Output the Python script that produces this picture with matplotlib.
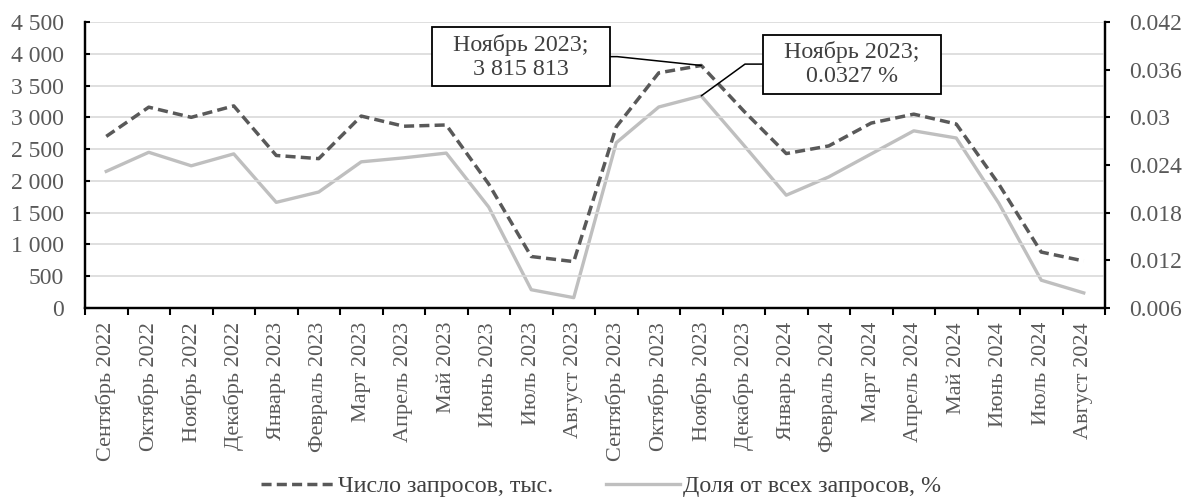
import matplotlib
matplotlib.use("Agg")
import matplotlib.pyplot as plt
from matplotlib.path import Path
from matplotlib.ticker import FuncFormatter, FixedLocator

plt.rcParams['font.family'] = ['Liberation Serif', 'DejaVu Serif']

# data
months = ["Сентябрь 2022", "Октябрь 2022", "Ноябрь 2022", "Декабрь 2022",
          "Январь 2023", "Февраль 2023", "Март 2023", "Апрель 2023", "Май 2023",
          "Июнь 2023", "Июль 2023", "Август 2023", "Сентябрь 2023", "Октябрь 2023",
          "Ноябрь 2023", "Декабрь 2023", "Январь 2024", "Февраль 2024", "Март 2024",
          "Апрель 2024", "Май 2024", "Июнь 2024", "Июль 2024", "Август 2024"]
requests = [2700, 3160, 3000, 3180, 2400, 2350, 3020, 2860, 2880,
            1950, 810, 730, 2850, 3700, 3816, 3100, 2430, 2550, 2910,
            3050, 2895, 1950, 880, 740]
share = [0.0232, 0.0256, 0.0239, 0.0254, 0.0193, 0.0206, 0.0244, 0.0249, 0.0255,
         0.0187, 0.0083, 0.0073, 0.0268, 0.0313, 0.0327, 0.0265, 0.0202, 0.0225,
         0.0254, 0.0283, 0.0274, 0.0192, 0.0095, 0.0079]
left_ticks = [0, 500, 1000, 1500, 2000, 2500, 3000, 3500, 4000, 4500]
right_ticks = [0.006, 0.012, 0.018, 0.024, 0.03, 0.036, 0.042]

label_col = "#595959"
text_col = "#404040"
W, H = 1189, 498
fig = plt.figure(figsize=(W / 100, H / 100), dpi=100)
ax = fig.add_axes([85 / W, 1 - 308 / H, (1105 - 85) / W, (308 - 22) / H])
ax2 = ax.twinx()

x = list(range(len(months)))
l1, = ax.plot(x, requests, color="#595959", lw=2.5, ls=(0, (2.9, 1.5)),
              label="Число запросов, тыс.")
l2, = ax2.plot(x, share, color="#bfbfbf", lw=2.4, label="Доля от всех запросов, %")
ax.set_zorder(ax2.get_zorder() + 1)
ax.patch.set_visible(False)

ax.set_xlim(-0.5, len(months) - 0.5)
ax.set_ylim(0, 4500)
ax2.set_ylim(0.006, 0.042)

ax.set_yticks(left_ticks)
ax.yaxis.set_major_formatter(FuncFormatter(lambda v, p: f"{int(v):,}".replace(",", " ")))
ax2.set_yticks(right_ticks)
ax2.yaxis.set_major_formatter(FuncFormatter(lambda v, p: f"{v:g}"))

ax.set_xticks(x)
ax.set_xticklabels(months, rotation=90)
ax.xaxis.set_minor_locator(FixedLocator([i - 0.5 for i in range(len(months) + 1)]))
ax.tick_params(axis="x", which="major", length=0, pad=10, labelsize=16)
ax.tick_params(axis="x", which="minor", length=5, width=1.5, direction="out")
ax.tick_params(axis="y", length=3.6, width=1.5, direction="in", pad=15, labelsize=17)
ax2.tick_params(axis="y", length=3.6, width=1.5, direction="out", pad=13.7, labelsize=17)
for a in (ax, ax2):
    a.tick_params(labelcolor=label_col)

ax.grid(axis="y", color="#d9d9d9", lw=1.2)
ax.set_axisbelow(True)
ax.spines["top"].set_visible(False)
ax2.spines["top"].set_visible(False)
for a in (ax, ax2):
    for s in ("left", "right", "bottom"):
        a.spines[s].set_linewidth(1.6)
        a.spines[s].set_color("black")


# box with wider horizontal padding, like the Excel data callouts
def wide_box(x0, y0, width, height, mutation_size):
    px, py = 0.88 * mutation_size, 0.27 * mutation_size
    x0, y0 = x0 - px, y0 - py
    x1, y1 = x0 + width + 2 * px, y0 + height + 2 * py
    return Path([(x0, y0), (x1, y0), (x1, y1), (x0, y1), (x0, y0)], closed=True)


box = dict(boxstyle=wide_box, fc="white", ec="black", lw=1.3)
i = months.index("Ноябрь 2023")
ax.annotate("Ноябрь 2023;\n3 815 813", xy=(i, requests[i]), xytext=(9.76, 3955),
            ha="center", va="center", fontsize=17.3, color=text_col, bbox=box,
            arrowprops=dict(arrowstyle="-", color="black", lw=1.1,
                            connectionstyle="angle,angleA=0,angleB=174,rad=0",
                            shrinkA=0, shrinkB=0))
ax.annotate("Ноябрь 2023;\n0.0327 %", xy=(i, share[i]), xytext=(17.54, 0.0367),
            xycoords=ax2.transData, textcoords=ax2.transData,
            ha="center", va="center", fontsize=17.3, color=text_col, bbox=box,
            arrowprops=dict(arrowstyle="-", color="black", lw=1.1,
                            connectionstyle="angle,angleA=180,angleB=36,rad=0",
                            shrinkA=0, shrinkB=0))

fig.legend(handles=[l1, l2], loc="center", bbox_to_anchor=(601 / W, 1 - 486 / H),
           ncol=2, frameon=False, fontsize=17.3, handlelength=3.1, handletextpad=0.13,
           columnspacing=2.17, labelcolor=text_col, borderpad=0.1)

fig.savefig("out.png", dpi=100)
